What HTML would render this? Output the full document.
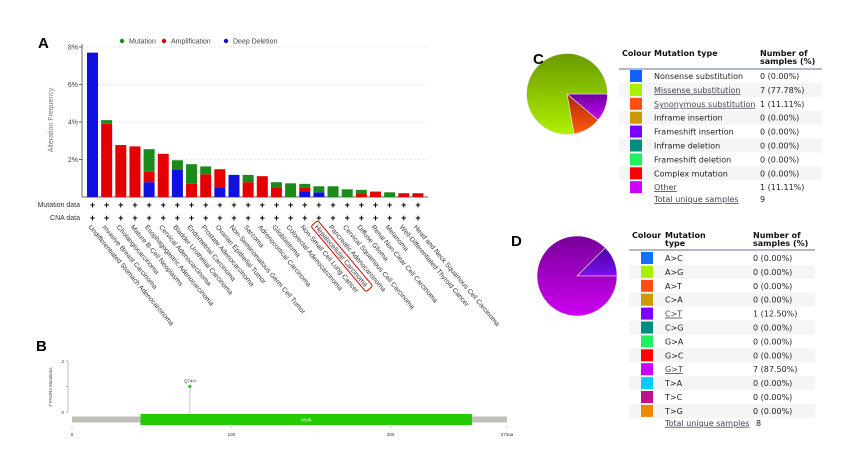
<!DOCTYPE html>
<html><head><meta charset="utf-8"><style>
body{margin:0;background:#fff;}
svg text{font-family:"Liberation Sans",sans-serif;}
.tb{font-family:"DejaVu Sans","Liberation Sans",sans-serif;font-size:8px;fill:#222;}
.th{font-family:"DejaVu Sans","Liberation Sans",sans-serif;font-size:8px;font-weight:bold;fill:#111;}
.lnk{fill:#445;text-decoration:underline;}
</style></head><body>
<svg id="fig" width="845" height="451" viewBox="0 0 845 451" xmlns="http://www.w3.org/2000/svg">
<defs>
<linearGradient id="gGreen" x1="0" y1="0" x2="0" y2="1"><stop offset="0" stop-color="#6a9a00"/><stop offset="1" stop-color="#b0f000"/></linearGradient>
<linearGradient id="gOrange" x1="0" y1="0" x2="0" y2="1"><stop offset="0" stop-color="#b02800"/><stop offset="1" stop-color="#ff5a10"/></linearGradient>
<linearGradient id="gPurpC" x1="0" y1="0" x2="0" y2="1"><stop offset="0" stop-color="#7000a0"/><stop offset="1" stop-color="#c800f0"/></linearGradient>
<linearGradient id="gPurpD" x1="0" y1="0" x2="0" y2="1"><stop offset="0" stop-color="#78009a"/><stop offset="1" stop-color="#cc00f0"/></linearGradient>
<linearGradient id="gInd" x1="0" y1="0" x2="0" y2="1"><stop offset="0" stop-color="#4a00a0"/><stop offset="1" stop-color="#7a10f0"/></linearGradient>
</defs>
<g id="panelA"></g>
<g id="panelB"></g>
<g id="panelC"></g>
<g id="panelD"></g>
</svg>
<script>
const categories=["Undifferentiated Stomach Adenocarcinoma","Invasive Breast Carcinoma","Cholangiocarcinoma","Mature B-Cell Neoplasms","Esophagogastric Adenocarcinoma","Cervical Adenocarcinoma","Bladder Urothelial Carcinoma","Endometrial Carcinoma","Prostate Adenocarcinoma","Ovarian Epithelial Tumor","Non-Seminomatous Germ Cell Tumor","Sarcoma","Adrenocortical Carcinoma","Glioblastoma","Colorectal Adenocarcinoma","Non-Small Cell Lung Cancer","Hepatocellular Carcinoma","Pancreatic Adenocarcinoma","Cervical Squamous Cell Carcinoma","Diffuse Glioma","Renal Non-Clear Cell Carcinoma","Melanoma","Well-Differentiated Thyroid Cancer","Head and Neck Squamous Cell Carcinoma"];
const deepDeletion=[7.7,0,0,0,0.79,0,1.46,0,0,0.48,1.18,0,0,0,0,0.3,0.25,0,0,0,0,0,0,0];
const amplification=[0,3.9,2.77,2.7,0.55,2.3,0,0.7,1.21,1.0,0,0.79,1.11,0.52,0,0.2,0,0,0,0.2,0.29,0,0.2,0.2];
const mutation=[0,0.2,0,0,1.21,0,0.5,1.05,0.42,0,0,0.39,0,0.27,0.73,0.2,0.32,0.57,0.41,0.18,0,0.25,0,0];
const yTicks=[2,4,6,8];
const highlighted="Hepatocellular Carcinoma";
const lolliPos=[74];
const lolliCount=[1];
const lolliLabel=["Q74H"];
const xTicksB=[0,100,200];
const typesC=["Nonsense substitution","Missense substitution","Synonymous substitution","Inframe insertion","Frameshift insertion","Inframe deletion","Frameshift deletion","Complex mutation","Other"];
const countsC=[0,7,1,0,0,0,0,0,1];
const pctC=["0.00%","77.78%","11.11%","0.00%","0.00%","0.00%","0.00%","0.00%","11.11%"];
const typesD=["A>C","A>G","A>T","C>A","C>T","C>G","G>A","G>C","G>T","T>A","T>C","T>G"];
const countsD=[0,0,0,0,1,0,0,0,7,0,0,0];
const pctD=["0.00%","0.00%","0.00%","0.00%","12.50%","0.00%","0.00%","0.00%","87.50%","0.00%","0.00%","0.00%"];

const NS="http://www.w3.org/2000/svg";
function mk(tag,attrs,parent,txt){const e=document.createElementNS(NS,tag);for(const k in attrs)e.setAttribute(k,attrs[k]);if(txt!==undefined)e.textContent=txt;parent.appendChild(e);return e;}

// ---------- Panel A ----------
const A=document.getElementById('panelA');
const yBase=197,pxPerPct=18.75,x0=92.5,pitch=14.15,bw=11;
const ys=v=>yBase-v*pxPerPct, xs=i=>x0+i*pitch;
let t=mk('text',{x:38,y:48,'font-size':15,'font-weight':'bold',fill:'#000'},A,'A');

yTicks.forEach(v=>{
  const g=mk('line',{x1:82,x2:428,y1:ys(v),y2:ys(v),stroke:'#e4e4e4','stroke-dasharray':'2,2'},A);
  
  const tk=mk('line',{x1:79,x2:82,y1:ys(v),y2:ys(v),stroke:'#666'},A);
  
  const l=mk('text',{x:78,y:ys(v)+2.5,'font-size':7,fill:'#444','text-anchor':'end'},A,v+'%');
  
});
let ax=mk('line',{x1:82,x2:82,y1:44,y2:yBase,stroke:'#666'},A);

ax=mk('line',{x1:82,x2:428,y1:yBase,y2:yBase,stroke:'#666'},A);

t=mk('text',{x:0,y:0,'font-size':7,fill:'#777','text-anchor':'middle',transform:'translate(53,120) rotate(-90)'},A,'Alteration Frequency');

const leg=[["Mutation","#1a8a1a",122],["Amplification","#e00000",164],["Deep Deletion","#1010e0",226]];
leg.forEach(L=>{
  const g=mk('g',{},A);
  
  mk('circle',{cx:L[2],cy:41,r:2.2,fill:L[1]},g);
  mk('text',{x:L[2]+7,y:43.5,'font-size':7,fill:'#444'},g,L[0]);
});
categories.forEach((c,i)=>{
  let y=yBase;
  [[deepDeletion,'#1010e0','bar-deep-deletion'],[amplification,'#e40000','bar-amplification'],[mutation,'#1a8a1a','bar-mutation']].forEach(s=>{
    const v=s[0][i];if(v<=0)return;
    const h=v*pxPerPct;
    const r=mk('rect',{x:xs(i)-bw/2,y:y-h,width:bw,height:h,fill:s[1]},A);
    
    y-=h;
  });
  const p1=mk('text',{x:xs(i),y:208,'font-size':9,'font-weight':'bold','text-anchor':'middle',fill:'#000'},A,'+');
  
  const p2=mk('text',{x:xs(i),y:221,'font-size':9,'font-weight':'bold','text-anchor':'middle',fill:'#000'},A,'+');
  
  const lg=mk('g',{transform:`translate(${xs(i)-3},226) rotate(50)`},A);
  
  mk('text',{x:0,y:2,'font-size':6.8,fill:'#333'},lg,c);
  if(c===highlighted){
    const bx=mk('rect',{x:-3,y:-5,width:c.length*3.4+4,height:9,rx:2,fill:'none',stroke:'#e00000','stroke-width':1},lg);
    
  }
});
t=mk('text',{x:80,y:207,'font-size':7,fill:'#333','text-anchor':'end'},A,'Mutation data');

t=mk('text',{x:80,y:220,'font-size':7,fill:'#333','text-anchor':'end'},A,'CNA data');


// ---------- Panel B ----------
const B=document.getElementById('panelB');
const bx0=72,bx1=507,len=273,xb=a=>bx0+a/len*(bx1-bx0);
const yb0=412,yb2=361,yb=v=>yb0-(yb0-yb2)*v/2;
t=mk('text',{x:36,y:351,'font-size':15,'font-weight':'bold',fill:'#000'},B,'B');

ax=mk('line',{x1:68,x2:68,y1:yb2,y2:yb0,stroke:'#bbb'},B);

[0,1,2].forEach(v=>{
  const tk=mk('line',{x1:66,x2:68,y1:yb(v),y2:yb(v),stroke:'#bbb'},B);
  
  if(v!==1){const l=mk('text',{x:64,y:yb(v)+2,'font-size':4.5,fill:'#333','text-anchor':'end'},B,String(v));
  }
});
t=mk('text',{x:0,y:0,'font-size':4.5,fill:'#444','text-anchor':'middle',transform:'translate(52,387) rotate(-90)'},B,'# FAOR4 Mutations');

let r=mk('rect',{x:bx0,y:416.5,width:bx1-bx0,height:6,fill:'#c0c0b8'},B);

r=mk('rect',{x:xb(43),y:414,width:xb(251)-xb(43),height:11,fill:'#22cc00'},B);

t=mk('text',{x:(xb(43)+xb(251))/2,y:421.5,'font-size':4.5,fill:'#fff','text-anchor':'middle'},B,'HlyIII');

lolliPos.forEach((p,i)=>{
  const s=mk('line',{x1:xb(p),x2:xb(p),y1:yb(lolliCount[i]),y2:414,stroke:'#bbb','stroke-width':0.8},B);
  
  const h=mk('circle',{cx:xb(p),cy:yb(lolliCount[i]),r:1.6,fill:'#22cc00'},B);
  
  const l=mk('text',{x:xb(p),y:yb(lolliCount[i])-4,'font-size':4.5,fill:'#333','text-anchor':'middle'},B,lolliLabel[i]);
  
});
xTicksB.concat([len]).forEach(v=>{
  const tk=mk('line',{x1:xb(v),x2:xb(v),y1:426,y2:428,stroke:'#ccc'},B);
  
  const l=mk('text',{x:xb(v),y:436,'font-size':4.5,fill:'#333','text-anchor':'middle'},B,v===len?len+'aa':String(v));
  
});

// ---------- pies + tables ----------
function pie(parent,cx,cy,R,counts,fills,startAng,dir,name){
  const tot=counts.reduce((a,b)=>a+b,0);let a=startAng;
  counts.forEach((c,i)=>{
    if(c<=0)return;
    const sw=c/tot*2*Math.PI*dir;const a2=a+sw;
    const large=Math.abs(sw)>Math.PI?1:0;
    const d=`M${cx},${cy}L${cx+R*Math.cos(a)},${cy+R*Math.sin(a)}A${R},${R} 0 ${large} ${dir>0?1:0} ${cx+R*Math.cos(a2)},${cy+R*Math.sin(a2)}Z`;
    const p=mk('path',{d:d,fill:fills[i],stroke:'#eee','stroke-width':0.6},parent);
    
    a=a2;
  });
}
function table(parent,x0,yHead,yLine,y1,pitch,types,counts,pcts,cols,links,twoLineType,name,totalN,numX,txtX,swX){
  const hdr=mk('g',{},parent);
  
  mk('text',{x:x0,y:yHead,class:'th'},hdr,'Colour');
  if(twoLineType){mk('text',{x:txtX,y:yHead,class:'th'},hdr,'Mutation');mk('text',{x:txtX,y:yHead+8,class:'th'},hdr,'type');}
  else mk('text',{x:txtX,y:yHead,class:'th'},hdr,'Mutation type');
  mk('text',{x:numX,y:yHead,class:'th'},hdr,'Number of');
  mk('text',{x:numX,y:yHead+8,class:'th'},hdr,'samples (%)');
  mk('line',{x1:x0-3,x2:numX+62,y1:yLine,y2:yLine,stroke:'#8090a8','stroke-width':1.2},hdr);
  types.forEach((ty,i)=>{
    const y=y1+i*pitch;
    const row=mk('g',{},parent);
    
    if(i%2===1)mk('rect',{x:x0-3,y:y-pitch/2,width:numX+65-x0,height:pitch,fill:'#f5f5f5'},row);
    mk('rect',{x:swX,y:y-6,width:12,height:12,fill:cols[i]},row);
    const tt=mk('text',{x:txtX,y:y+3,class:'tb'+(links.includes(i)?' lnk':'')},row,ty);
    if(links.includes(i)){}
    mk('text',{x:numX,y:y+3,class:'tb'},row,counts[i]+' ('+pcts[i]+')');
  });
  const ty=y1+types.length*pitch-2;
  const tl=mk('text',{x:txtX,y:ty+3,class:'tb lnk'},parent,'Total unique samples');
  
  const tn=mk('text',{x:twoLineType?txtX+91:numX,y:ty+3,class:'tb'},parent,String(totalN));
  
}
const C=document.getElementById('panelC');
const colsC=['#1060ff','#a8f000','#ff5010','#cc9900','#7a00ff','#008c80','#20f060','#ff0000','#cc00ff'];
const pieFillC=['#1060ff','url(#gGreen)','url(#gOrange)','#cc9900','#7a00ff','#008c80','#20f060','#ff0000','url(#gPurpC)'];
pie(C,567,94,40.5,countsC.slice().reverse(),pieFillC.slice().reverse(),0,1,'pie-slice-c');
t=mk('text',{x:533,y:64,'font-size':15,'font-weight':'bold',fill:'#000'},C,'C');

table(C,622,56,69,76,13.9,typesC,countsC,pctC,colsC,[1,2,8],false,'table-row-c',9,760,654,630);
const D=document.getElementById('panelD');
t=mk('text',{x:511,y:246,'font-size':15,'font-weight':'bold',fill:'#000'},D,'D');

const colsD=['#1070ff','#a8f000','#ff5010','#cc9900','#7a00ff','#008c80','#20f060','#ff0000','#cc00ff','#00ccff','#c0108c','#ee8800'];
const pieFillD=colsD.slice();pieFillD[4]='url(#gInd)';pieFillD[8]='url(#gPurpD)';
pie(D,577,276,40,countsD,pieFillD,0,-1,'pie-slice-d');
table(D,632,238,250,258,13.9,typesD,countsD,pctD,colsD,[4,8],true,'table-row-d',8,753,665,641);
</script>
</body></html>
